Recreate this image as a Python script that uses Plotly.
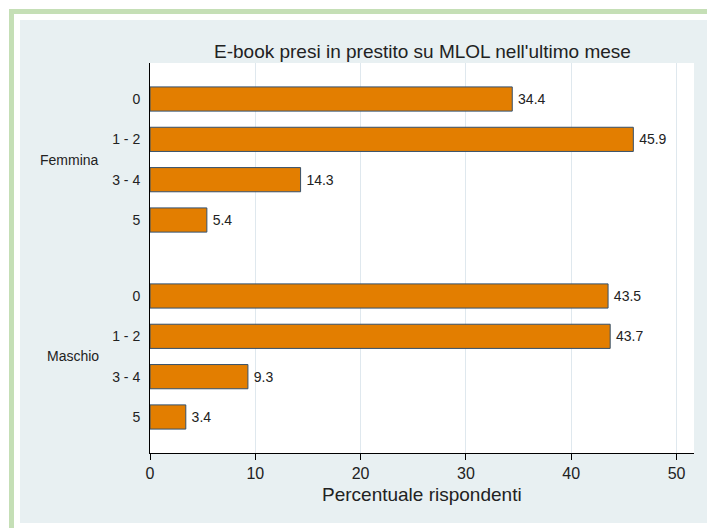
import plotly.graph_objects as go

# ---- data ----
groups = ["Femmina", "Maschio"]
categories = ["0", "1 - 2", "3 - 4", "5"]
femmina_values = [34.4, 45.9, 14.3, 5.4]
maschio_values = [43.5, 43.7, 9.3, 3.4]
x_ticks = [0, 10, 20, 30, 40, 50]
title_text = "E-book presi in prestito su MLOL nell'ultimo mese"
x_title = "Percentuale rispondenti"

# ---- layout constants (page pixels; the page body has an 8px margin) ----
OFF = 8
W, H = 715 - OFF, 528 - OFF
L, R, T, B = 150 - OFF, 694 - OFF, 63 - OFF, 453 - OFF   # plot area in figure px
GAP = 1.884                       # extra gap between groups (category units)
PAD = 0.893                       # outer padding (category units)
FONT = "Liberation Sans, Arial, sans-serif"
ORANGE = "#e37e00"
OUTLINE = "#34506c"
GRID = "#dfe8ee"
BG = "#e8f0f2"
GREEN = "#c5dfb6"
TXT = "#222222"

series = [femmina_values, maschio_values]
ys, xs, texts, ticktext, tickvals, centers = [], [], [], [], [], []
for gi, vals in enumerate(series):
    base = gi * (len(categories) - 1 + GAP)
    pos = [base + i for i in range(len(categories))]
    ys += pos
    xs += vals
    texts += [f"{v:.1f}" for v in vals]
    tickvals += pos
    ticktext += categories
    centers.append(sum(pos) / len(pos))

ymax = max(ys)

fig = go.Figure()
fig.add_trace(go.Bar(
    x=xs, y=ys, orientation="h", width=0.6,
    marker=dict(color=ORANGE, line=dict(color=OUTLINE, width=1)),
    text=texts, texttemplate="\u2009%{text}", textposition="outside",
    constraintext="none",
    textfont=dict(family=FONT, size=14, color=TXT),
    cliponaxis=False, hoverinfo="skip",
))

def px_x(x):  # page px -> paper
    return (x - OFF - L) / (R - L)

def px_y(y):  # page px -> paper
    return (B - (y - OFF)) / (B - T)

shapes = [
    dict(type="rect", xref="paper", yref="paper", layer="below",
         x0=px_x(9), x1=px_x(14), y0=px_y(9), y1=px_y(540),
         fillcolor=GREEN, line=dict(width=0)),
    dict(type="rect", xref="paper", yref="paper", layer="below",
         x0=px_x(9), x1=px_x(730), y0=px_y(9), y1=px_y(14),
         fillcolor=GREEN, line=dict(width=0)),
    dict(type="rect", xref="paper", yref="paper", layer="below",
         x0=px_x(20), x1=px_x(713), y0=px_y(20), y1=px_y(523),
         fillcolor=BG, line=dict(width=0)),
    dict(type="rect", xref="paper", yref="paper", layer="below",
         x0=0, x1=1, y0=0, y1=1,
         fillcolor="white", line=dict(width=0)),
]

annotations = [
    dict(text=g, xref="paper", yref="y", x=px_x(101), y=c,
         xanchor="right", yanchor="middle", showarrow=False,
         font=dict(family=FONT, size=14, color=TXT))
    for g, c in zip(groups, centers)
]
annotations.append(dict(text=x_title, xref="paper", yref="paper",
                        x=0.5, y=px_y(494), xanchor="center", yanchor="middle",
                        showarrow=False, font=dict(family=FONT, size=19, color=TXT)))
annotations.append(dict(text=title_text, xref="paper", yref="paper",
                        x=0.5, y=px_y(51), xanchor="center", yanchor="middle",
                        showarrow=False, font=dict(family=FONT, size=19, color=TXT)))

fig.update_layout(
    width=W, height=H,
    margin=dict(l=L, r=W - R, t=T, b=H - B, pad=0),
    paper_bgcolor="white", plot_bgcolor="white",
    showlegend=False,
    shapes=shapes, annotations=annotations,
    font=dict(family=FONT, color=TXT),
    xaxis=dict(range=[0, 51.66], tickvals=x_ticks, showgrid=True, gridcolor=GRID,
               gridwidth=1, zeroline=False, showline=True, linecolor="black",
               linewidth=1, ticks="outside", ticklen=6, tickcolor="black",
               ticklabelstandoff=0,
               tickfont=dict(family=FONT, size=16, color=TXT), fixedrange=True),
    yaxis=dict(range=[ymax + PAD, -PAD], tickvals=tickvals, ticktext=ticktext,
               showgrid=False, zeroline=False, showline=True, linecolor="black",
               linewidth=1, ticks="", ticklabelstandoff=6,
               tickfont=dict(family=FONT, size=14, color=TXT), fixedrange=True),
)

fig.write_html("out.html")
